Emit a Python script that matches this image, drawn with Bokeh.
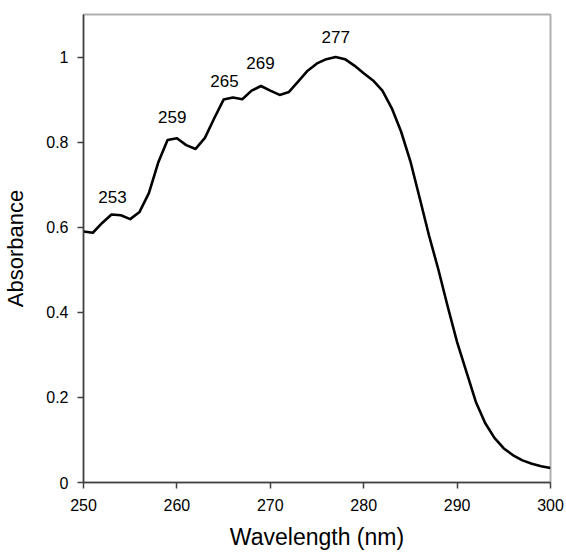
from bokeh.plotting import figure
from bokeh.models import ColumnDataSource, FixedTicker, CustomJSTickFormatter, Range1d
from bokeh.core.properties import value
from bokeh.embed import file_html
from bokeh.resources import INLINE

wavelength = list(range(250, 301))
absorbance = [0.590, 0.587, 0.610, 0.630, 0.628, 0.619, 0.636, 0.680, 0.752, 0.805,
              0.809, 0.793, 0.784, 0.810, 0.856, 0.900, 0.905, 0.901, 0.921, 0.932,
              0.921, 0.911, 0.918, 0.943, 0.968, 0.985, 0.995, 1.000, 0.995, 0.980,
              0.962, 0.945, 0.921, 0.880, 0.825, 0.755, 0.668, 0.580, 0.500, 0.413,
              0.330, 0.260, 0.190, 0.140, 0.105, 0.080, 0.064, 0.052, 0.044, 0.038,
              0.034]

peak_labels = ["253", "259", "265", "269", "277"]
peak_x = [253.1, 259.5, 265.1, 268.95, 277.0]
peak_label_y = [0.656, 0.845, 0.929, 0.972, 1.033]

x_ticks = [250, 260, 270, 280, 290, 300]
y_ticks = [0, 0.2, 0.4, 0.6, 0.8, 1.0]

FONT = "Liberation Sans"

p = figure(width=566, height=554, output_backend="svg", toolbar_location=None,
           x_range=Range1d(250, 300), y_range=Range1d(0, 1.1),
           min_border_left=83, min_border_top=14, min_border_right=16, min_border_bottom=72)

p.xgrid.visible = False
p.ygrid.visible = False
p.outline_line_color = "#b0b0b0"
p.outline_line_width = 2
p.background_fill_color = "white"
p.border_fill_color = "white"

src = ColumnDataSource(dict(x=wavelength, y=absorbance))
p.line("x", "y", source=src, line_color="black", line_width=2.6, line_join="round")

lab = ColumnDataSource(dict(x=peak_x, y=peak_label_y, t=peak_labels))
p.text("x", "y", text="t", source=lab, text_font=value(FONT), text_font_size="17px",
       text_align="center", text_baseline="bottom", text_color="black")

for ax in (p.xaxis[0], p.yaxis[0]):
    ax.axis_line_color = "#404040"
    ax.axis_line_width = 1.5
    ax.major_tick_line_color = "#404040"
    ax.major_tick_line_width = 1.5
    ax.major_tick_out = 6
    ax.major_tick_in = 0
    ax.minor_tick_line_color = None
    ax.major_label_text_font = FONT
    ax.major_label_text_font_size = "16px"
    ax.major_label_text_color = "black"
    ax.axis_label_text_font = FONT
    ax.axis_label_text_font_style = "normal"
    ax.axis_label_text_color = "black"

p.xaxis.axis_label_text_font_size = "23px"
p.yaxis.axis_label_text_font_size = "22px"
p.xaxis.ticker = FixedTicker(ticks=x_ticks)
p.yaxis.ticker = FixedTicker(ticks=y_ticks)
p.yaxis.formatter = CustomJSTickFormatter(code="return String(Math.round(tick*10)/10);")
p.xaxis.axis_label = "Wavelength (nm)"
p.yaxis.axis_label = "Absorbance"
p.xaxis.major_label_standoff = 10
p.yaxis.major_label_standoff = 9
p.xaxis.axis_label_standoff = 10
p.yaxis.axis_label_standoff = 15

open("out.html", "w").write(file_html(p, INLINE))
